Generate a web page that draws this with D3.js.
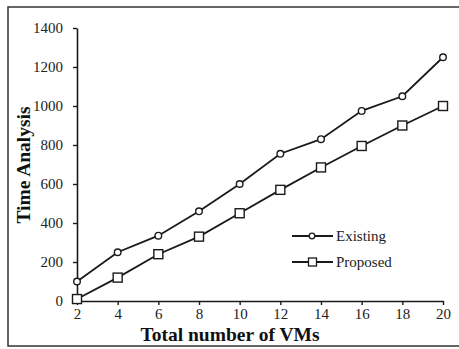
<!DOCTYPE html>
<html><head><meta charset="utf-8">
<script src="https://cdn.jsdelivr.net/npm/d3@7"></script>
<style>html,body{margin:0;padding:0;background:#fff;}svg{display:block;}</style>
</head><body>
<svg id="c" width="459" height="349"></svg>
<script>
const vms = [2, 4, 6, 8, 10, 12, 14, 16, 18, 20];
const existing = [100, 250, 335, 460, 600, 755, 830, 975, 1050, 1250];
const proposed = [10, 120, 240, 330, 450, 570, 685, 795, 900, 1000];
const yTicks = [0, 200, 400, 600, 800, 1000, 1200, 1400];
const seriesNames = ["Existing", "Proposed"];

const svg = d3.select("#c");
const ink = "#1a1a1a";
const serif = "'Liberation Serif','Times New Roman',serif";

// outer frame
svg.append("rect").attr("x", 8).attr("y", 7).attr("width", 460).attr("height", 339)
  .attr("fill", "none").attr("stroke", "#333").attr("stroke-width", 1.5);

const x = d3.scaleLinear().domain([2, 20]).range([77, 443]);
const y = d3.scaleLinear().domain([0, 1400]).range([301, 28]);

const xAxis = svg.append("g").attr("transform", "translate(0,301)")
  .call(d3.axisBottom(x).tickValues(vms).tickFormat(d3.format("d")).tickSize(4).tickSizeOuter(0).tickPadding(3));
const yAxis = svg.append("g").attr("transform", "translate(77,0)")
  .call(d3.axisLeft(y).tickValues(yTicks).tickFormat(d3.format("d")).tickSize(4).tickSizeOuter(0).tickPadding(10));
[xAxis, yAxis].forEach(g => {
  g.select(".domain").attr("stroke", ink).attr("stroke-width", 1.6);
  g.selectAll(".tick line").attr("stroke", ink).attr("stroke-width", 1.4);
  g.selectAll(".tick text").attr("fill", "#222").style("font-family", serif).style("font-size", "15px");
});

// titles
svg.append("text").attr("x", 230).attr("y", 341).attr("text-anchor", "middle")
  .style("font-family", serif).style("font-size", "19.5px").style("font-weight", "bold")
  .attr("fill", "#111").text("Total number of VMs");
svg.append("text").attr("transform", "translate(30,165) rotate(-90)").attr("text-anchor", "middle")
  .style("font-family", serif).style("font-size", "19.5px").style("font-weight", "bold")
  .attr("fill", "#111").text("Time Analysis");

const line = d3.line().x(d => x(d[0])).y(d => y(d[1]));
const series = [existing, proposed].map(vals => vms.map((v, i) => [v, vals[i]]));

series.forEach((pts) => {
  svg.append("path").datum(pts).attr("d", line).attr("fill", "none")
    .attr("stroke", ink).attr("stroke-width", 1.8);
});
// markers
svg.selectAll(".mc").data(series[0]).enter().append("circle")
  .attr("cx", d => x(d[0])).attr("cy", d => y(d[1])).attr("r", 3.3)
  .attr("fill", "#fff").attr("stroke", ink).attr("stroke-width", 1.4);
svg.selectAll(".ms").data(series[1]).enter().append("rect")
  .attr("x", d => x(d[0]) - 4.5).attr("y", d => y(d[1]) - 4.5).attr("width", 9).attr("height", 9)
  .attr("fill", "#fff").attr("stroke", ink).attr("stroke-width", 1.4);

// legend
const leg = svg.append("g");
seriesNames.forEach((name, i) => {
  const ly = 236 + i * 26;
  leg.append("line").attr("x1", 292).attr("x2", 333).attr("y1", ly).attr("y2", ly)
    .attr("stroke", ink).attr("stroke-width", 1.8);
  if (i === 0) {
    leg.append("circle").attr("cx", 312).attr("cy", ly).attr("r", 2.8)
      .attr("fill", "#fff").attr("stroke", ink).attr("stroke-width", 1.3);
  } else {
    leg.append("rect").attr("x", 308.5).attr("y", ly - 4).attr("width", 8).attr("height", 8)
      .attr("fill", "#fff").attr("stroke", ink).attr("stroke-width", 1.3);
  }
  leg.append("text").attr("x", 336).attr("y", ly + 5).style("font-family", serif)
    .style("font-size", "15px").attr("fill", "#222").text(name);
});
</script>
</body></html>
